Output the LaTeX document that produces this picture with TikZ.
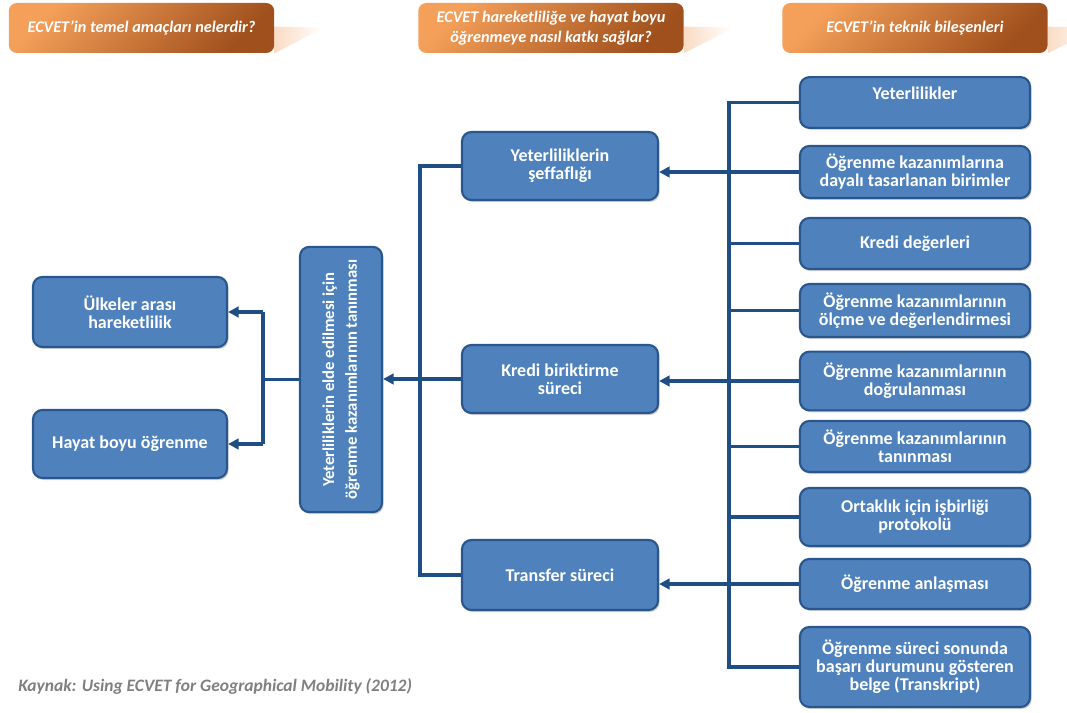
\documentclass[tikz,border=0pt]{standalone}
\usepackage{fontspec}
\setmainfont{Carlito}[Ligatures=NoCommon]
\usetikzlibrary{arrows.meta,shadows,backgrounds}

\definecolor{boxblue}{HTML}{4F81BD}
\definecolor{boxedge}{HTML}{2A568E}
\definecolor{linkblue}{HTML}{1F4E85}
\definecolor{hdrlight}{HTML}{F5A05A}
\definecolor{hdrdark}{HTML}{A0501C}
\definecolor{tailpeach}{HTML}{FADCC4}
\definecolor{capgray}{HTML}{7F7F7F}

\tikzset{
  box/.style={rounded corners=7pt, fill=boxblue, draw=boxedge,
    line width=1.6pt, text=white, align=center, inner sep=2pt,
    font=\bfseries\fontsize{13.5}{13.5}\selectfont,
    drop shadow={shadow xshift=1.2pt, shadow yshift=-1.5pt,
      opacity=0.35, fill=gray}},
  rbox/.style={box, minimum width=172.5pt},
  mbox/.style={box, minimum width=147pt},
  lbox/.style={box, minimum width=145.5pt},
  hdr/.style={rounded corners=6pt, top color=hdrlight,
    bottom color=hdrdark, shading angle=45, text=white, align=center,
    minimum width=199pt, minimum height=37.5pt,
    font=\bfseries\itshape\fontsize{12.2}{15}\selectfont},
  link/.style={draw=linkblue, line width=2.4pt},
  arr/.style={link, -{Triangle[length=8pt,width=8pt]}},
}

\begin{document}
\begin{tikzpicture}[x=0.75pt, y=-0.75pt]
  \useasboundingbox (0,0) rectangle (1067,713);

  % column headers
  \node[hdr] (h1) at (141.5,28) {ECVET’in temel amaçları nelerdir?};
  \node[hdr] (h2) at (551,28) {ECVET hareketliliğe ve hayat boyu\\öğrenmeye nasıl katkı sağlar?};
  \node[hdr] (h3) at (915,28) {ECVET’in teknik bileşenleri};
  \begin{scope}[on background layer]
    \foreach \h in {h1,h2,h3}
      \shade[left color=tailpeach, right color=white]
        ([yshift=1pt]\h.east) -- ++(50,1) -- (\h.south east) -- cycle;
  \end{scope}

  % technical components
  \node[rbox, minimum height=38pt] (r1) at (915,102.5) {Yeterlilikler\\[-4pt]\strut};
  \node[rbox, minimum height=39pt] (r2) at (915,172) {Öğrenme kazanımlarına\\dayalı tasarlanan birimler};
  \node[rbox, minimum height=38.25pt] (r3) at (915,243.5) {Kredi değerleri};
  \node[rbox, minimum height=39.75pt] (r4) at (915,310.5) {Öğrenme kazanımlarının\\ölçme ve değerlendirmesi};
  \node[rbox, minimum height=44pt] (r5) at (915,381) {Öğrenme kazanımlarının\\doğrulanması};
  \node[rbox, minimum height=38.25pt] (r6) at (915,446.5) {Öğrenme kazanımlarının\\tanınması};
  \node[rbox, minimum height=43.5pt] (r7) at (915,517) {Ortaklık için işbirliği\\protokolü};
  \node[rbox, minimum height=37.5pt] (r8) at (915,584) {Öğrenme anlaşması};
  \node[rbox, minimum height=60pt] (r9) at (915,667) {Öğrenme süreci sonunda\\başarı durumunu gösteren\\belge (Transkript)};

  % processes
  \node[mbox, minimum height=51pt] (m1) at (560,166) {Yeterliliklerin\\şeffaflığı};
  \node[mbox, minimum height=51pt] (m2) at (560,379) {Kredi biriktirme\\süreci};
  \node[mbox, minimum height=52.5pt] (m3) at (560,575) {Transfer süreci};

  % rotated: vbox.north is its left side, vbox.south its right side
  \node[box, rotate=90, minimum width=199pt, minimum height=61.5pt,
    font=\bfseries\fontsize{12.5}{17}\selectfont] (vbox) at (341,379.5)
    {Yeterliliklerin elde edilmesi için\\öğrenme kazanımlarının tanınması};

  % aims
  \node[lbox, minimum height=52.5pt] (l1) at (130,312) {Ülkeler arası\\hareketlilik};
  \node[lbox, minimum height=51pt] (l2) at (130,444) {Hayat boyu öğrenme};

  \coordinate (busR) at (729,0);
  \coordinate (busM) at (420,0);
  \coordinate (busL) at (263,0);

  % right bus
  \draw[link] (r1.west) -- (r1.west -| busR) -- (r9.west -| busR) -- (r9.west);
  \foreach \n in {r3,r4,r6,r7}
    \draw[link] (\n.west) -- (\n.west -| busR);
  \draw[arr] (r2.west) -- (m1.east |- r2.west);
  \draw[arr] (r5.west) -- (m2.east |- r5.west);
  \draw[arr] (r8.west) -- (m3.east |- r8.west);

  % middle bus
  \draw[link] (m1.west) -- (m1.west -| busM) -- (m3.west -| busM) -- (m3.west);
  \draw[arr] (m2.west) -- (m2.west -| vbox.south);

  % left bus
  \draw[link] (vbox.north) -- (vbox.north -| busL);
  \draw[link] (l1.east -| busL) -- (l2.east -| busL);
  \draw[arr] (l1.east -| busL) -- (l1.east);
  \draw[arr] (l2.east -| busL) -- (l2.east);

  \node[anchor=west, inner sep=0pt, text=capgray,
    font=\bfseries\itshape\fontsize{13.1}{15}\selectfont]
    (src) at (18,686) {Kaynak: Using ECVET for Geographical Mobility (2012)};
\end{tikzpicture}
\end{document}
